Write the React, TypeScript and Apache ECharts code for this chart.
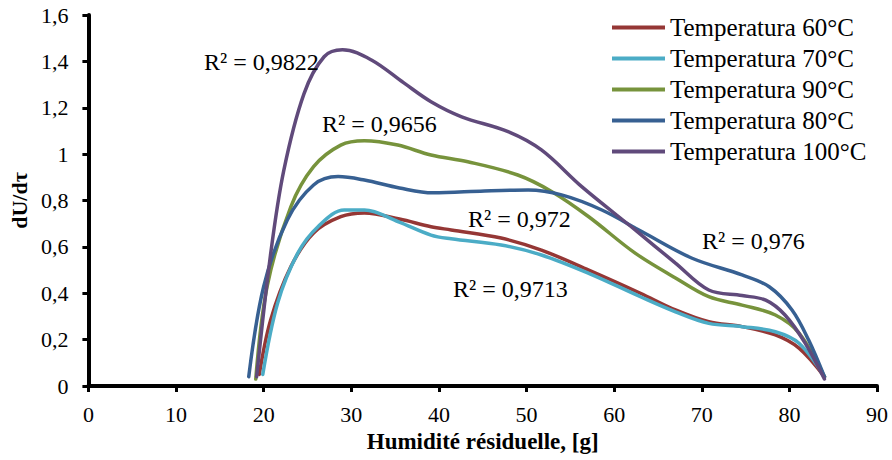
import React, { useEffect, useRef } from "react";
import * as echarts from "echarts";

const seriesNames = [
  "Temperatura 60°C",
  "Temperatura 70°C",
  "Temperatura 90°C",
  "Temperatura 80°C",
  "Temperatura 100°C",
];
const seriesColors = ["#953735", "#4BACC6", "#77933C", "#376092", "#604A7B"];

const x60 = [19.5, 20.8, 23.1, 25.7, 28.8, 31.5, 35.5, 39.1, 41.4, 47.1, 51.7, 57.1, 63, 67, 70.8, 74.6, 78.4, 81.1, 84];
const y60 = [0.05, 0.285, 0.514, 0.66, 0.73, 0.746, 0.72, 0.687, 0.673, 0.638, 0.586, 0.5, 0.4, 0.328, 0.277, 0.256, 0.22, 0.163, 0.04];

const x70 = [19.9, 21.6, 23.9, 26.2, 29.2, 31.5, 35.4, 39.1, 41.4, 47.1, 51.7, 57.1, 63, 67, 70.8, 74.6, 78.4, 81.1, 84];
const y70 = [0.05, 0.358, 0.573, 0.687, 0.759, 0.759, 0.708, 0.651, 0.635, 0.608, 0.565, 0.486, 0.385, 0.32, 0.27, 0.256, 0.234, 0.184, 0.04];

const x90 = [19.1, 20.4, 23.1, 25.7, 28.8, 31.5, 35.3, 39.1, 43.3, 49, 52.9, 57.1, 62.4, 67, 70.8, 74.6, 78.4, 81.1, 84];
const y90 = [0.03, 0.43, 0.773, 0.946, 1.039, 1.058, 1.039, 0.996, 0.967, 0.91, 0.838, 0.73, 0.573, 0.466, 0.385, 0.349, 0.306, 0.228, 0.04];

const x80 = [18.3, 20, 22.7, 25.7, 28.5, 31.5, 35.5, 39.3, 45.2, 50.2, 54, 58.6, 63.2, 68.9, 74.6, 77.7, 80.3, 82.2, 84];
const y80 = [0.04, 0.428, 0.716, 0.867, 0.903, 0.888, 0.854, 0.833, 0.841, 0.845, 0.824, 0.759, 0.665, 0.551, 0.479, 0.428, 0.328, 0.198, 0.04];

const x100 = [19.2, 20.8, 22.3, 24.6, 26.9, 29, 32.3, 36, 39.1, 42.6, 47.9, 51.7, 56.3, 62.4, 67, 70.8, 74.6, 77.3, 79.5, 81.8, 84];
const y100 = [0.04, 0.57, 0.93, 1.26, 1.42, 1.45, 1.406, 1.307, 1.226, 1.161, 1.097, 1.018, 0.86, 0.673, 0.53, 0.414, 0.39, 0.37, 0.306, 0.185, 0.03];

const xsList = [x60, x70, x90, x80, x100];
const ysList = [y60, y70, y90, y80, y100];

const r2Labels = ["R² = 0,9822", "R² = 0,9656", "R² = 0,972", "R² = 0,9713", "R² = 0,976"];
const r2Pos = [
  [204, 62],
  [322, 124],
  [468, 219],
  [453, 289],
  [702, 241],
];

const FONT = '"Liberation Serif", "Times New Roman", serif';

export default function App() {
  const ref = useRef<HTMLDivElement>(null);
  useEffect(() => {
    if (!ref.current) return;
    const chart = echarts.init(ref.current, null, { renderer: "svg" });
    const series = seriesNames.map((name, i) => ({
      name,
      type: "line",
      smooth: 0.35,
      symbol: "none",
      data: xsList[i].map((x, j) => [x, ysList[i][j]]),
      lineStyle: { width: 3.5, color: seriesColors[i], cap: "round" },
      itemStyle: { color: seriesColors[i] },
      z: 2 + i,
    }));
    chart.setOption({
      animation: false,
      textStyle: { fontFamily: FONT },
      grid: { left: 88, right: 15, top: 15, bottom: 74, containLabel: false },
      legend: {
        orient: "vertical",
        left: 607,
        top: 10,
        itemWidth: 53,
        itemHeight: 4,
        itemGap: 6,
        icon: "rect",
        data: seriesNames,
        textStyle: { fontFamily: FONT, fontSize: 25, color: "#000", lineHeight: 21 },
      },
      xAxis: {
        type: "value",
        min: 0,
        max: 90,
        interval: 10,
        name: "Humidité résiduelle, [g]",
        nameLocation: "middle",
        nameGap: 42,
        nameTextStyle: { fontFamily: FONT, fontSize: 23, fontWeight: "bold", color: "#000" },
        axisLine: { lineStyle: { color: "#000", width: 4 } },
        axisTick: { show: true, inside: false, length: 6, lineStyle: { color: "#000", width: 3 } },
        axisLabel: { fontFamily: FONT, fontSize: 22, color: "#000", margin: 17 },
        splitLine: { show: false },
      },
      yAxis: {
        type: "value",
        min: 0,
        max: 1.6,
        interval: 0.2,
        name: "dU/dτ",
        nameLocation: "middle",
        nameGap: 57,
        nameRotate: 90,
        nameTextStyle: { fontFamily: FONT, fontSize: 22, fontWeight: "bold", color: "#000" },
        axisLine: { show: true, lineStyle: { color: "#000", width: 4 } },
        axisTick: { show: true, inside: false, length: 6, lineStyle: { color: "#000", width: 3 } },
        axisLabel: {
          fontFamily: FONT,
          fontSize: 22,
          color: "#000",
          margin: 20,
          formatter: (v: number) => String(Math.round(v * 10) / 10).replace(".", ","),
        },
        splitLine: { show: false },
      },
      graphic: r2Labels.map((t, i) => ({
        type: "text",
        x: r2Pos[i][0],
        y: r2Pos[i][1],
        z: 100,
        style: {
          text: t,
          fontFamily: FONT,
          fontSize: 24,
          fill: "#000",
          align: "left",
          verticalAlign: "middle",
        },
      })),
      series,
    });
    return () => chart.dispose();
  }, []);
  return (
    <div
      ref={ref}
      style={{ position: "fixed", left: 0, top: 0, width: 892, height: 460, background: "#fff" }}
    />
  );
}
